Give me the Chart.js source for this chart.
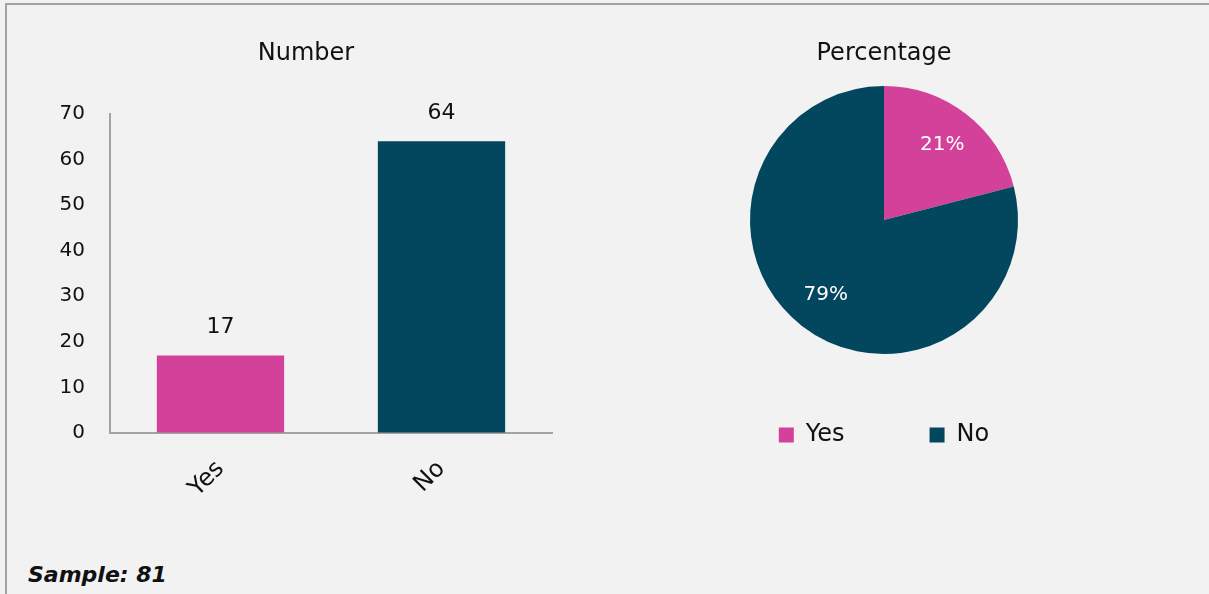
<!DOCTYPE html>
<html>
<head>
<meta charset="utf-8">
<script src="https://cdn.jsdelivr.net/npm/chart.js@4/dist/chart.umd.min.js"></script>
<style>
  html, body { margin: 0; padding: 0; background: #f2f2f2; }
  body { width: 1209px; height: 594px; position: relative; overflow: hidden; font-family: "DejaVu Sans", sans-serif; }
  #frame { position: absolute; left: 5px; top: 3px; width: 2000px; height: 1000px;
           border-top: 2px solid #a3a3a3; border-left: 2px solid #a3a3a3; }
  #barBox { position: absolute; left: 0; top: 0; width: 600px; height: 520px; }
  #pieBox { position: absolute; left: 674px; top: 0; width: 420px; height: 470px; }
  #sample { position: absolute; left: 28px; top: 562px; font: italic bold 22px "DejaVu Sans", sans-serif; color: #111; }
</style>
</head>
<body>
<div id="frame"></div>
<div id="barBox"><canvas id="barChart"></canvas></div>
<div id="pieBox"><canvas id="pieChart"></canvas></div>
<div id="sample">Sample: 81</div>
<script>
// data
const categories = ['Yes', 'No'];
const counts = [17, 64];
const colors = ['#d4419a', '#02475e'];
const yMax = 70;
const yStep = 10;

const font = 'DejaVu Sans';
Chart.defaults.font.family = font;
Chart.defaults.color = '#111';

// value labels on top of the bars
const barLabels = {
  id: 'barLabels',
  afterDatasetsDraw(chart) {
    const ctx = chart.ctx;
    const meta = chart.getDatasetMeta(0);
    ctx.save();
    ctx.font = '22px "' + font + '"';
    ctx.fillStyle = '#111';
    ctx.textAlign = 'center';
    ctx.textBaseline = 'middle';
    meta.data.forEach((bar, i) => {
      ctx.fillText(counts[i], bar.x, bar.y - 28);
    });
    ctx.restore();
  }
};

// percent labels inside the slices
const pieLabels = {
  id: 'pieLabels',
  afterDatasetsDraw(chart) {
    const ctx = chart.ctx;
    const meta = chart.getDatasetMeta(0);
    const total = counts.reduce((a, b) => a + b, 0);
    ctx.save();
    ctx.font = '20px "' + font + '"';
    ctx.fillStyle = '#ffffff';
    ctx.textAlign = 'center';
    ctx.textBaseline = 'middle';
    meta.data.forEach((arc, i) => {
      const p = arc.getProps(['x', 'y', 'startAngle', 'endAngle', 'outerRadius']);
      const mid = (p.startAngle + p.endAngle) / 2;
      const r = p.outerRadius * 0.71;
      const txt = Math.round(counts[i] / total * 100) + '%';
      ctx.fillText(txt, p.x + Math.cos(mid) * r, p.y + Math.sin(mid) * r);
    });
    ctx.restore();
  }
};

new Chart(document.getElementById('barChart'), {
  type: 'bar',
  data: {
    labels: categories,
    datasets: [{
      data: counts,
      backgroundColor: colors,
      categoryPercentage: 1,
      barPercentage: 0.576
    }]
  },
  options: {
    responsive: true,
    maintainAspectRatio: false,
    animation: false,
    layout: { padding: { left: 60, right: 48, top: 0, bottom: 7 } },
    plugins: {
      legend: { display: false },
      tooltip: { enabled: false },
      title: {
        display: true,
        text: 'Number',
        color: '#111',
        font: { size: 24, weight: 'normal' },
        padding: { top: 39, bottom: 46 }
      }
    },
    scales: {
      x: {
        grid: { display: true, drawOnChartArea: false, drawTicks: false },
        border: { display: true, color: '#a3a3a3', width: 2 },
        ticks: { font: { size: 24 }, color: '#111', minRotation: 45, maxRotation: 45, padding: 22 },
        afterFit(scale) { scale.height = 80; }
      },
      y: {
        min: 0,
        max: yMax,
        grid: { display: true, drawOnChartArea: false, drawTicks: false },
        border: { display: true, color: '#a3a3a3', width: 2 },
        ticks: { stepSize: yStep, font: { size: 20 }, color: '#111', padding: 25 },
        afterFit(scale) { scale.width = 50; }
      }
    }
  },
  plugins: [barLabels]
});

new Chart(document.getElementById('pieChart'), {
  type: 'pie',
  data: {
    labels: categories,
    datasets: [{
      data: counts,
      backgroundColor: colors,
      borderWidth: 0,
      radius: 134
    }]
  },
  options: {
    responsive: true,
    maintainAspectRatio: false,
    animation: false,
    layout: { padding: { left: 0, right: 0, top: 0, bottom: 13 } },
    plugins: {
      tooltip: { enabled: false },
      title: {
        display: true,
        text: 'Percentage',
        color: '#111',
        font: { size: 24, weight: 'normal' },
        padding: { top: 39, bottom: 34.2 }
      },
      legend: {
        position: 'bottom',
        align: 'center',
        labels: {
          boxWidth: 15,
          boxHeight: 15,
          padding: 85,
          color: '#111',
          font: { size: 24 }
        }
      }
    }
  },
  plugins: [pieLabels]
});
</script>
</body>
</html>
